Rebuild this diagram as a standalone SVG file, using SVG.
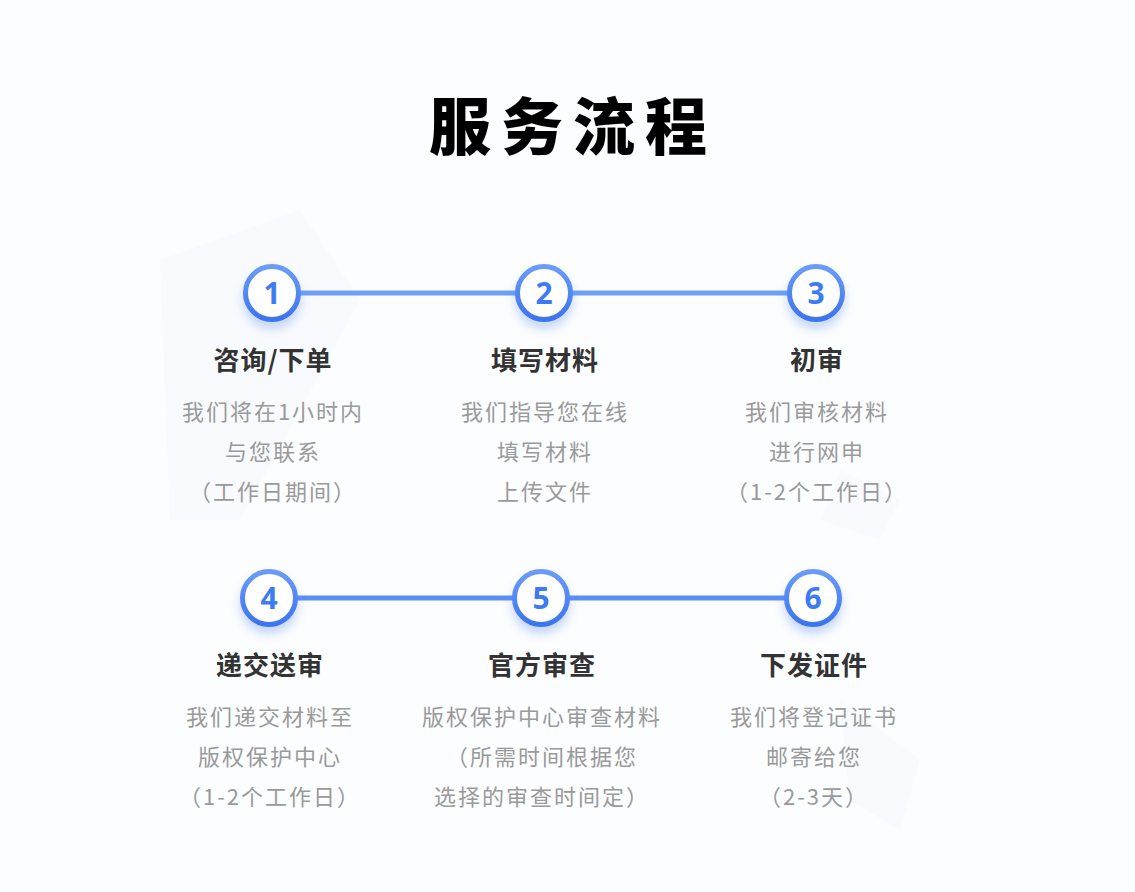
<svg xmlns="http://www.w3.org/2000/svg" width="1135" height="892" viewBox="0 0 1135 892">
<defs>
<linearGradient id="ring" x1="0" y1="0" x2="0" y2="1">
<stop offset="0" stop-color="#6b9cf6"/>
<stop offset="1" stop-color="#3a74ef"/>
</linearGradient>
<filter id="sh" x="-50%" y="-50%" width="200%" height="220%">
<feGaussianBlur in="SourceAlpha" stdDeviation="5"/>
<feOffset dy="7" result="b"/>
<feFlood flood-color="#3a74ef" flood-opacity="0.28"/>
<feComposite in2="b" operator="in"/>
<feMerge><feMergeNode/><feMergeNode in="SourceGraphic"/></feMerge>
</filter>
<style>
.ttl{font-family:"Noto Sans CJK SC","Liberation Sans",sans-serif;font-weight:900;font-size:62px;fill:#000;text-anchor:middle;letter-spacing:10px}
.ring{fill:#fff;stroke:url(#ring);stroke-width:5}
.num{font-family:"Noto Sans","Noto Sans CJK SC",sans-serif;font-weight:700;font-size:30px;fill:#3d7bf2;text-anchor:middle}
.h{font-family:"Noto Sans CJK SC","Liberation Sans",sans-serif;font-weight:700;font-size:26px;fill:#333;text-anchor:middle;letter-spacing:1px}
.d{font-family:"Noto Sans CJK SC","Liberation Sans",sans-serif;font-weight:400;font-size:22px;fill:#9a9a9a;text-anchor:middle;letter-spacing:2px}
.ln{stroke:#6f9ff6;stroke-width:5;fill:none}
.ln2{stroke:#5a8ff4;stroke-width:5;fill:none}
</style>
</defs>
<rect width="1135" height="892" fill="#fcfdff"/>
<g opacity="0.25" fill="#eef3fd">
<polygon points="160,260 300,210 360,300 240,520 170,520"/>
<polygon points="840,470 900,500 880,540 820,520"/>
<polygon points="840,700 920,760 900,830 850,800"/>
</g>
<text class="ttl" x="573" y="150">服务流程</text>
<g id="connectors">
<line class="ln" x1="300" y1="293" x2="516" y2="293"/>
<line class="ln" x1="572" y1="293" x2="788" y2="293"/>
<line class="ln2" x1="297" y1="598" x2="513" y2="598"/>
<line class="ln2" x1="569" y1="598" x2="785" y2="598"/>
</g>
<g id="step1">
<circle class="ring" cx="272" cy="293" r="26.5" filter="url(#sh)"/>
<text class="num" x="272" y="304">1</text>
<text class="h" x="273" y="370">咨询/下单</text>
<text class="d" x="273" y="420">我们将在1小时内</text>
<text class="d" x="273" y="460">与您联系</text>
<text class="d" x="273" y="500">（工作日期间）</text>
</g>
<g id="step2">
<circle class="ring" cx="544" cy="293" r="26.5" filter="url(#sh)"/>
<text class="num" x="544" y="304">2</text>
<text class="h" x="545" y="370">填写材料</text>
<text class="d" x="545" y="420">我们指导您在线</text>
<text class="d" x="545" y="460">填写材料</text>
<text class="d" x="545" y="500">上传文件</text>
</g>
<g id="step3">
<circle class="ring" cx="816" cy="293" r="26.5" filter="url(#sh)"/>
<text class="num" x="816" y="304">3</text>
<text class="h" x="817" y="370">初审</text>
<text class="d" x="817" y="420">我们审核材料</text>
<text class="d" x="817" y="460">进行网申</text>
<text class="d" x="817" y="500">（1-2个工作日）</text>
</g>
<g id="step4">
<circle class="ring" cx="269" cy="598" r="26.5" filter="url(#sh)"/>
<text class="num" x="269" y="609">4</text>
<text class="h" x="270" y="675">递交送审</text>
<text class="d" x="270" y="725">我们递交材料至</text>
<text class="d" x="270" y="765">版权保护中心</text>
<text class="d" x="270" y="805">（1-2个工作日）</text>
</g>
<g id="step5">
<circle class="ring" cx="541" cy="598" r="26.5" filter="url(#sh)"/>
<text class="num" x="541" y="609">5</text>
<text class="h" x="542" y="675">官方审查</text>
<text class="d" x="542" y="725">版权保护中心审查材料</text>
<text class="d" x="542" y="765">（所需时间根据您</text>
<text class="d" x="542" y="805">选择的审查时间定）</text>
</g>
<g id="step6">
<circle class="ring" cx="813" cy="598" r="26.5" filter="url(#sh)"/>
<text class="num" x="813" y="609">6</text>
<text class="h" x="814" y="675">下发证件</text>
<text class="d" x="814" y="725">我们将登记证书</text>
<text class="d" x="814" y="765">邮寄给您</text>
<text class="d" x="814" y="805">（2-3天）</text>
</g>
</svg>
